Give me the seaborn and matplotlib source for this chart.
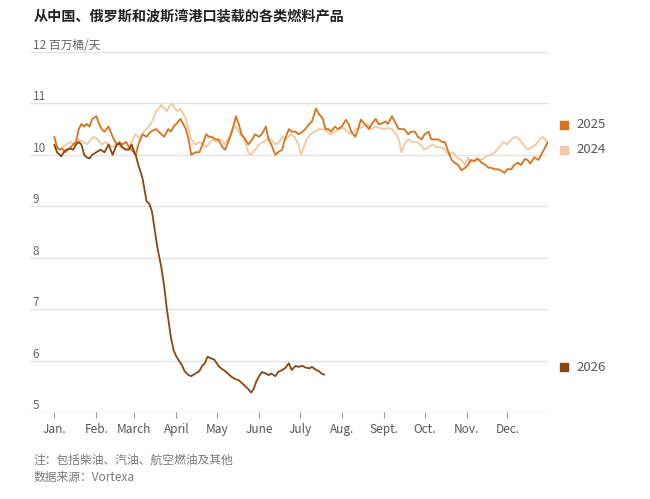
import pandas as pd
import matplotlib.pyplot as plt
import seaborn as sns

# Données (jour de l'année, millions de barils/jour)
days_2025 = [0, 2, 4, 6, 8, 10, 12, 14, 16, 18, 20, 22, 24, 26, 28, 31, 33, 35, 37, 40,
             43, 46, 48, 50, 53, 55, 57, 60, 62, 65, 68, 71, 75, 77, 79, 81, 84, 86, 88, 90,
             93, 95, 97, 99, 101, 104, 107, 110, 112, 114, 116, 119, 121, 124, 126, 129, 131, 134, 136, 138,
             141, 143, 146, 148, 151, 153, 156, 158, 160, 163, 165, 168, 170, 173, 175, 178, 180, 183, 185, 188,
             190, 193, 195, 198, 200, 202, 204, 207, 209, 212, 215, 217, 219, 222, 224, 226, 229, 232, 234, 237,
             239, 241, 244, 246, 249, 251, 254, 256, 258, 261, 263, 266, 268, 271, 273, 276, 278, 281, 283, 286,
             288, 290, 293, 295, 298, 300, 303, 305, 307, 310, 312, 315, 318, 320, 322, 325, 327, 329, 332, 334,
             337, 339, 342, 344, 347, 349, 351, 354, 357, 359, 362, 364]
vals_2025 = [10.35, 10.15, 10.1, 10.12, 10.05, 10.1, 10.15, 10.2, 10.25, 10.5, 10.6, 10.55, 10.6, 10.55, 10.7, 10.75, 10.6, 10.5, 10.45, 10.55,
             10.35, 10.2, 10.25, 10.2, 10.25, 10.15, 10.1, 10.0, 10.2, 10.4, 10.35, 10.45, 10.5, 10.45, 10.4, 10.35, 10.5, 10.45, 10.55, 10.6,
             10.7, 10.6, 10.5, 10.3, 10.0, 10.05, 10.05, 10.25, 10.4, 10.35, 10.35, 10.3, 10.3, 10.15, 10.1, 10.3, 10.45, 10.75, 10.6, 10.4,
             10.3, 10.2, 10.3, 10.4, 10.35, 10.4, 10.55, 10.3, 10.2, 10.0, 10.05, 10.1, 10.3, 10.5, 10.45, 10.45, 10.4, 10.45, 10.5, 10.6,
             10.65, 10.9, 10.8, 10.7, 10.5, 10.5, 10.45, 10.55, 10.5, 10.55, 10.68, 10.6, 10.45, 10.35, 10.5, 10.68, 10.6, 10.5, 10.6, 10.7,
             10.6, 10.6, 10.65, 10.6, 10.75, 10.65, 10.5, 10.5, 10.5, 10.4, 10.45, 10.45, 10.35, 10.3, 10.4, 10.45, 10.3, 10.3, 10.3, 10.25,
             10.25, 10.1, 9.9, 9.85, 9.8, 9.7, 9.75, 9.8, 9.9, 9.88, 9.93, 9.85, 9.8, 9.75, 9.75, 9.72, 9.72, 9.7, 9.65, 9.72,
             9.72, 9.8, 9.85, 9.8, 9.92, 9.9, 9.83, 9.95, 9.9, 10.0, 10.15, 10.25]

days_2024 = [0, 3, 6, 9, 12, 15, 18, 21, 24, 27, 29, 32, 35, 38, 40, 43, 46, 49, 52, 55,
             58, 60, 63, 66, 68, 71, 73, 75, 77, 79, 81, 83, 85, 87, 89, 91, 93, 95, 97, 99,
             101, 104, 107, 110, 112, 115, 117, 120, 123, 126, 129, 131, 134, 137, 140, 143, 145, 148, 151, 154,
             157, 160, 163, 166, 168, 171, 174, 177, 180, 182, 184, 186, 189, 192, 195, 198, 201, 204, 207, 210,
             213, 216, 219, 222, 225, 228, 231, 234, 237, 240, 243, 246, 249, 252, 254, 256, 258, 261, 264, 267,
             270, 273, 276, 279, 282, 285, 288, 291, 294, 297, 300, 303, 305, 307, 310, 313, 316, 319, 322, 325,
             328, 331, 334, 337, 340, 343, 346, 349, 352, 355, 358, 360, 362, 364]
vals_2024 = [10.15, 10.1, 10.15, 10.2, 10.25, 10.2, 10.3, 10.25, 10.2, 10.3, 10.35, 10.3, 10.2, 10.25, 10.2, 10.15, 10.2, 10.15, 10.1, 10.15,
             10.3, 10.4, 10.3, 10.45, 10.5, 10.6, 10.7, 10.85, 10.9, 10.97, 10.9, 10.85, 10.95, 11.0, 10.9, 10.85, 10.9, 10.8, 10.7, 10.5,
             10.3, 10.2, 10.25, 10.2, 10.15, 10.25, 10.3, 10.25, 10.3, 10.2, 10.35, 10.5, 10.55, 10.4, 10.3, 10.05, 10.0, 10.1, 10.2, 10.25,
             10.3, 10.3, 10.2, 10.25, 10.35, 10.3, 10.4, 10.35, 10.2, 10.0, 10.15, 10.3, 10.4, 10.45, 10.5, 10.5, 10.45, 10.4, 10.45, 10.5,
             10.52, 10.45, 10.4, 10.5, 10.52, 10.55, 10.6, 10.5, 10.55, 10.52, 10.5, 10.52, 10.5, 10.4, 10.3, 10.05, 10.2, 10.3, 10.25, 10.25,
             10.2, 10.1, 10.15, 10.2, 10.15, 10.15, 10.1, 10.0, 10.05, 9.95, 9.9, 9.8, 9.95, 9.85, 9.9, 9.9, 9.92, 9.98, 10.0, 10.05,
             10.15, 10.25, 10.2, 10.3, 10.35, 10.3, 10.2, 10.1, 10.15, 10.2, 10.3, 10.35, 10.3, 10.2]

days_2026 = [0, 2, 4, 5, 7, 9, 12, 14, 16, 18, 20, 22, 24, 26, 28, 31, 34, 37, 40, 43,
             46, 48, 50, 53, 55, 57, 59, 60, 62, 65, 68, 70, 72, 74, 76, 79, 81, 83, 86, 88,
             90, 92, 94, 96, 99, 101, 104, 107, 109, 111, 113, 115, 118, 121, 123, 126, 128, 131, 133, 136,
             139, 141, 143, 145, 147, 149, 151, 153, 156, 158, 160, 163, 165, 168, 170, 173, 175, 178, 180, 183,
             185, 188, 190, 193, 195, 197, 199]
vals_2026 = [10.2, 10.05, 10.0, 9.97, 10.05, 10.1, 10.12, 10.1, 10.2, 10.25, 10.2, 10.0, 9.95, 9.93, 10.0, 10.05, 10.1, 10.05, 10.2, 10.0,
             10.2, 10.22, 10.15, 10.1, 10.1, 10.2, 10.05, 10.0, 9.8, 9.55, 9.1, 9.05, 8.9, 8.55, 8.2, 7.8, 7.45, 7.0, 6.45, 6.2,
             6.08, 6.0, 5.92, 5.8, 5.72, 5.7, 5.75, 5.8, 5.9, 5.95, 6.08, 6.05, 6.02, 5.9, 5.85, 5.8, 5.75, 5.68, 5.65, 5.62,
             5.55, 5.5, 5.45, 5.38, 5.45, 5.6, 5.7, 5.78, 5.75, 5.72, 5.75, 5.7, 5.78, 5.82, 5.85, 5.95, 5.82, 5.9, 5.88, 5.9,
             5.87, 5.85, 5.88, 5.82, 5.8, 5.75, 5.73]

month_starts = [0, 31, 59, 90, 120, 151, 181, 212, 243, 273, 304, 334]
month_labels = ["Jan.", "Feb.", "March", "April", "May", "June", "July", "Aug.", "Sept.", "Oct.", "Nov.", "Dec."]
y_ticks = [5, 6, 7, 8, 9, 10, 11, 12]

colors = {"2024": "#f2c9a1", "2025": "#d9731b", "2026": "#8b4511"}

df_2024 = pd.DataFrame({"day": days_2024, "value": vals_2024})
df_2025 = pd.DataFrame({"day": days_2025, "value": vals_2025})
df_2026 = pd.DataFrame({"day": days_2026, "value": vals_2026})

sns.set_style("white")
plt.rcParams['font.family'] = ['Noto Sans CJK SC', 'DejaVu Sans']

fig = plt.figure(figsize=(6.5, 4.99), dpi=100)
ax = fig.add_axes([0.046, 0.174, 0.797, 0.722])

sns.lineplot(data=df_2024, x="day", y="value", color=colors["2024"], linewidth=1.3, ax=ax)
sns.lineplot(data=df_2025, x="day", y="value", color=colors["2025"], linewidth=1.3, ax=ax)
sns.lineplot(data=df_2026, x="day", y="value", color=colors["2026"], linewidth=1.3, ax=ax)

ax.set_xlim(-18, 364)
ax.set_ylim(5, 12)
ax.set_xlabel("")
ax.set_ylabel("")

# grille horizontale
for v in y_ticks:
    ax.axhline(v, color="#e3e3e3", linewidth=1, zorder=0)
ax.set_yticks([])
for s in ax.spines.values():
    s.set_visible(False)

# étiquettes de l'axe y au-dessus des lignes
for v in y_ticks:
    txt = "12 百万桶/天" if v == 12 else str(v)
    ax.text(-16, v + 0.0, txt, fontsize=8.5, color="#666666", ha="left", va="bottom")

ax.set_xticks(month_starts)
ax.set_xticklabels(month_labels, fontsize=8.5, color="#555555")
ax.tick_params(axis="x", length=4, color="#999999", width=0.8, pad=4, direction="out", bottom=True)

# légende à droite
legend_items = [("2025", 10.58), ("2024", 10.1), ("2026", 5.87)]
for name, yv in legend_items:
    ax.scatter([376], [yv], marker="s", s=40, color=colors[name], clip_on=False)
    ax.text(385, yv, name, fontsize=9.5, color="#555555", va="center", ha="left", clip_on=False)

fig.text(0.051, 0.968, "从中国、俄罗斯和波斯湾港口装载的各类燃料产品", fontsize=10.2,
         fontweight="bold", color="#222222", ha="left", va="center")
fig.text(0.051, 0.078, "注：包括柴油、汽油、航空燃油及其他", fontsize=8.5, color="#777777",
         ha="left", va="center")
fig.text(0.051, 0.044, "数据来源：Vortexa", fontsize=8.5, color="#777777", ha="left", va="center")

fig.savefig("out.png", dpi=100)
